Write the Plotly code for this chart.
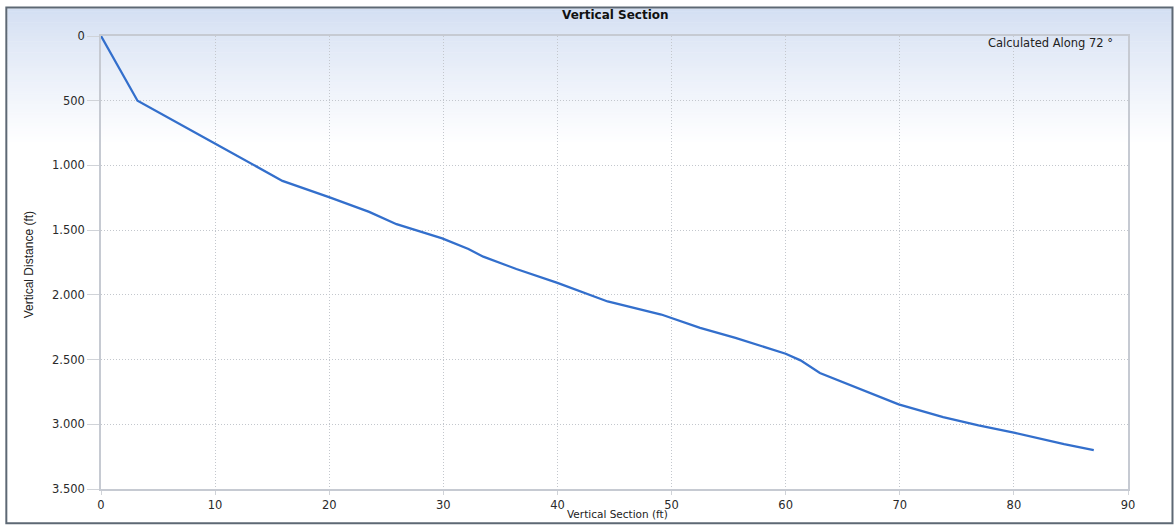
import plotly.graph_objects as go

# Data
vertical_section_ft = [0, 3.2, 9.9, 15.9, 20.1, 23.5, 25.9, 29.9, 32.2, 33.5, 36.4, 40.0,
                       44.4, 49.1, 52.5, 55.6, 60.0, 61.3, 63.0, 65.0, 67.5, 69.9, 73.8,
                       76.9, 80.1, 81.9, 84.4, 87.0]
vertical_distance_ft = [0, 500, 826, 1120, 1249, 1359, 1454, 1564, 1646, 1705, 1800, 1908,
                        2051, 2152, 2255, 2332, 2455, 2506, 2604, 2674, 2764, 2846, 2944,
                        3008, 3067, 3103, 3154, 3200]

x_range = [0, 90]
y_range = [3500, 0]
title_text = "Vertical Section"
x_title = "Vertical Section (ft)"
y_title = "Vertical Distance (ft)"
note_text = "Calculated Along 72 °"

W, H = 1175, 525
L, R, T, B = 100.7, 1128.0, 36.0, 489.0
pw, ph = R - L, B - T


def px(xp):
    return (xp - L) / pw


def py(yp):
    return (B - yp) / ph


fig = go.Figure()
fig.add_trace(go.Scatter(
    x=vertical_section_ft, y=vertical_distance_ft, mode="lines",
    line=dict(color="#336fcc", width=2.3), hoverinfo="x+y", showlegend=False,
))

shapes = []
# background gradient (light blue at top fading to white)
top_c = (210, 222, 242)
y_start, y_end, n = 8.5, 145.0, 50
for i in range(n):
    a = y_start + (y_end - y_start) * i / n
    b = y_start + (y_end - y_start) * (i + 1) / n
    t = (i + 0.5) / n
    f = t ** 0.85
    c = tuple(round(top_c[k] + (255 - top_c[k]) * f) for k in range(3))
    shapes.append(dict(type="rect", xref="paper", yref="paper", layer="below",
                       x0=px(7), x1=px(1172), y0=py(b + 0.6), y1=py(a),
                       line=dict(width=0), fillcolor="rgb(%d,%d,%d)" % c))
# outer frame
shapes.append(dict(type="rect", xref="paper", yref="paper", layer="above",
                   x0=px(6), x1=px(1172.5), y0=py(523.2), y1=py(7.5),
                   line=dict(color="#5d6874", width=2), fillcolor="rgba(0,0,0,0)"))

tick_font = dict(family="DejaVu Sans, Verdana, sans-serif", size=11.5, color="#2a2a2a")

fig.update_layout(
    width=W, height=H,
    margin=dict(l=L, r=W - R, t=T, b=H - B, pad=0),
    paper_bgcolor="white", plot_bgcolor="rgba(0,0,0,0)",
    separators=",.",
    shapes=shapes,
    showlegend=False,
    annotations=[
        dict(text="<b>" + title_text + "</b>", xref="paper", yref="paper",
             x=px(615), y=py(15), xanchor="center", yanchor="middle", showarrow=False,
             font=dict(family="DejaVu Sans, sans-serif", size=12, color="#111111")),
        dict(text=note_text, xref="paper", yref="paper",
             x=px(1115), y=py(43), xanchor="right", yanchor="middle", showarrow=False,
             font=dict(family="DejaVu Sans, sans-serif", size=11.5, color="#222222")),
        dict(text=x_title, xref="paper", yref="paper",
             x=px(617), y=py(514), xanchor="center", yanchor="middle", showarrow=False,
             font=dict(family="DejaVu Sans, sans-serif", size=10.5, color="#222222")),
        dict(text=y_title, xref="paper", yref="paper", textangle=-90,
             x=px(29), y=py(265), xanchor="center", yanchor="middle", showarrow=False,
             font=dict(family="Liberation Sans Narrow, Liberation Sans, Arial, sans-serif",
                       size=12, color="#222222")),
    ],
)

fig.update_xaxes(
    range=x_range, dtick=10, tick0=0,
    showgrid=True, gridcolor="#c3c7cd", griddash="1px,2px", gridwidth=1,
    showline=True, linecolor="#c6cad2", linewidth=1.5, mirror=True,
    ticks="outside", ticklen=4, tickcolor="#d0d3d8", tickwidth=1,
    tickfont=tick_font, zeroline=False, fixedrange=True,
)
fig.update_yaxes(
    range=y_range, dtick=500, tick0=0, separatethousands=True,
    showgrid=True, gridcolor="#c3c7cd", griddash="1px,2px", gridwidth=1,
    showline=True, linecolor="#c6cad2", linewidth=1.5, mirror=True,
    ticks="outside", ticklen=12, tickcolor="#d0d3d8", tickwidth=1,
    tickfont=tick_font, zeroline=False, fixedrange=True,
)

fig.write_html(
    "out.html",
    config={"displayModeBar": False},
    post_script="document.body.style.margin='0';document.body.style.overflow='hidden';",
)
